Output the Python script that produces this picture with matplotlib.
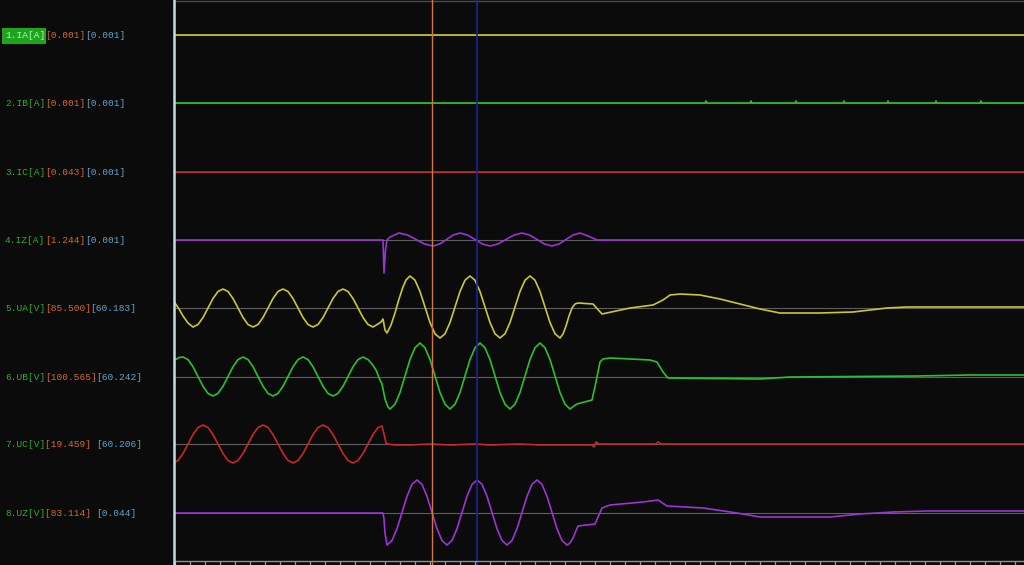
import matplotlib
matplotlib.use("Agg")
import matplotlib.pyplot as plt
from matplotlib.patches import Rectangle

# channel info (left panel)
names = ["IA", "IB", "IC", "IZ", "UA", "UB", "UC", "UZ"]
units = ["A", "A", "A", "A", "V", "V", "V", "V"]
cur1_vals = ["0.001", "0.001", "0.043", "1.244", "85.500", "100.565", "19.459", "83.114"]
cur2_vals = ["0.001", "0.001", "0.001", "0.001", "60.183", "60.242", "60.206", "0.044"]
gap_after = ["", "", "", "", "", "", " ", " "]

# waveforms: (sample no., deflection in display units, + is up)
ia_pts = [(0, 0), (849, 0)]
ib_pts = [(0, 0), (530, 0), (531, 2), (532, 0), (575, 0), (576, 2), (577, 0), (620, 0),
          (621, 2), (622, 0), (668, 0), (669, 2), (670, 0), (712, 0), (713, 2), (714, 0),
          (760, 0), (761, 2), (762, 0), (805, 0), (806, 2), (807, 0), (849, 0)]
ic_pts = [(0, 0), (849, 0)]

iz_pts = [(0, 0), (208, 0), (209, -33), (210.5, -10), (212, 0), (215, 3), (224, 7), (232.5, 5),
          (241, 0.5), (249.5, -4), (258, -6), (264.75, -4), (271.5, 0.5), (278.25, 5), (285, 7),
          (292.5, 5), (300, 0.5), (307.5, -4), (315, -6), (323, -4), (331, 0.5), (339, 5),
          (347, 7), (354.5, 5), (362, 0.5), (369.5, -4), (377, -6), (384, -4), (391, 0.5),
          (398, 5), (405, 7), (413, 4), (422, 0), (849, 0)]

ua_pts = [(0, 5), (4, -1), (8, -8), (13, -15), (18, -19), (23, -16.5), (28, -9.5), (33, 0),
          (38, 9.5), (43, 16.5), (48, 19), (53, 16.5), (58, 9.5), (63, 0), (68, -9.5),
          (73, -16.5), (78, -19), (83, -16.5), (88, -9.5), (93, 0), (98, 9.5), (103, 16.5),
          (108, 19), (113, 16.5), (118, 9.5), (123, 0), (128, -9.5), (133, -16.5), (138, -19),
          (143, -16.5), (148, -9.5), (153, 0), (158, 9.5), (163, 16.5), (168, 19), (173, 16.5),
          (178, 9.5), (183, 0), (188, -9.5), (193, -16.5), (198, -19), (203, -16), (206, -14),
          (208, -11), (210, -22), (212, -25), (216, -17), (220, -5), (224, 9), (228, 21),
          (231, 28), (235, 32), (240, 27.8), (245, 16.5), (250, 1), (255, -14.5), (260, -25.8),
          (265, -30), (270, -25.8), (275, -14.5), (280, 1), (285, 16.5), (290, 27.8), (295, 32),
          (300, 27.8), (305, 16.5), (310, 1), (315, -14.5), (320, -25.8), (325, -30),
          (330, -25.8), (335, -14.5), (340, 1), (345, 16.5), (350, 27.8), (355, 32), (360, 27.8),
          (365, 16.5), (370, 1), (375, -14.5), (380, -25.8), (385, -30), (388, -26), (391, -18),
          (394, -8), (397, 0), (400, 4), (403, 5), (418, 4), (427, -6), (455, 0), (478, 3),
          (488, 8), (495, 13), (505, 14), (525, 13), (545, 9), (565, 4), (585, -1), (605, -5),
          (645, -5), (678, -4), (712, 0), (732, 1), (849, 1)]

ub_pts = [(0, 17), (4, 19.5), (8, 20), (13, 17.4), (18, 10.25), (23, 0.5), (28, -9.25),
          (33, -16.4), (38, -19), (43, -16.4), (48, -9.25), (53, 0.5), (58, 10.25), (63, 17.4),
          (68, 20), (73, 17.4), (78, 10.25), (83, 0.5), (88, -9.25), (93, -16.4), (98, -19),
          (103, -16.4), (108, -9.25), (113, 0.5), (118, 10.25), (123, 17.4), (128, 20),
          (133, 17.4), (138, 10.25), (143, 0.5), (148, -9.25), (153, -16.4), (158, -19),
          (163, -16.4), (168, -9.25), (173, 0.5), (178, 10.25), (183, 17.4), (188, 20),
          (193, 17.4), (197, 13), (201, 7), (205, -3), (207, -7), (210, -22), (213, -30),
          (215, -32), (220, -27.2), (225, -15.5), (230, 1), (235, 17.5), (240, 29.2), (245, 34),
          (250, 29.2), (255, 17.5), (260, 1), (265, -15.5), (270, -27.2), (275, -32),
          (280, -27.2), (285, -15.5), (290, 1), (295, 17.5), (300, 29.2), (305, 34), (310, 29.2),
          (315, 17.5), (320, 1), (325, -15.5), (330, -27.2), (335, -32), (340, -27.2),
          (345, -15.5), (350, 1), (355, 17.5), (360, 29.2), (365, 34), (370, 29.2), (375, 17.5),
          (380, 1), (385, -15.5), (390, -27.2), (395, -32), (399, -29), (402, -27), (417, -23),
          (421, -5), (425, 15), (428, 18), (435, 19), (475, 17), (482, 15), (488, 5), (493, -1),
          (585, -2), (615, 0), (742, 1), (795, 2), (849, 2)]

uc_pts = [(0, -18), (3, -16.5), (8, -9.5), (13, 0), (18, 9.5), (23, 16.5), (28, 19), (33, 16.5),
          (38, 9.5), (43, 0), (48, -9.5), (53, -16.5), (58, -19), (63, -16.5), (68, -9.5),
          (73, 0), (78, 9.5), (83, 16.5), (88, 19), (93, 16.5), (98, 9.5), (103, 0), (108, -9.5),
          (113, -16.5), (118, -19), (123, -16.5), (128, -9.5), (133, 0), (138, 9.5), (143, 16.5),
          (148, 19), (153, 16.5), (158, 9.5), (163, 0), (168, -9.5), (173, -16.5), (178, -19),
          (183, -16.5), (188, -9.5), (193, 0), (198, 9.5), (203, 16.5), (207, 18), (209, 10),
          (211, 1), (213, 0), (220, -1), (235, -1), (255, 0), (275, -1), (300, 0), (315, -1),
          (345, 0), (365, -1), (385, -1), (417, -1), (419, -3), (421, 2), (424, 0), (465, 0),
          (481, 0), (483, 2), (486, 0), (849, 0)]

uz_pts = [(0, 0), (208, 0), (209, -6), (210, -20), (212, -32), (217, -27.5), (222, -15.75),
          (227, 0.5), (232, 16.75), (237, 28.6), (242, 33), (247, 28.6), (252, 16.75), (257, 0.5),
          (262, -15.75), (267, -27.5), (272, -32), (277, -27.5), (282, -15.75), (287, 0.5),
          (292, 16.75), (297, 28.6), (302, 33), (307, 28.6), (312, 16.75), (317, 0.5),
          (322, -15.75), (327, -27.5), (332, -32), (337, -27.5), (342, -15.75), (347, 0.5),
          (352, 16.75), (357, 28.6), (362, 33), (367, 28.6), (372, 16.75), (377, 0.5),
          (382, -15.75), (387, -27.5), (392, -32), (395, -30), (398, -25), (403, -13), (420, -11),
          (427, 5), (435, 8), (468, 11), (483, 13), (492, 7), (528, 5), (562, 0), (585, -4),
          (655, -4), (685, -1), (718, 1), (752, 2), (849, 2)]

cursor_a = 257
cursor_b = 302

series = [ia_pts, ib_pts, ic_pts, iz_pts, ua_pts, ub_pts, uc_pts, uz_pts]
colors = ["#c8c832", "#2cc02c", "#c42828", "#9a34d2",
          "#c8c832", "#2cc02c", "#c42828", "#9a34d2"]
base = [35, 103, 172, 240, 308, 377, 444, 513]

bg = "#0b0b0b"
fig = plt.figure(figsize=(10.24, 5.65), dpi=100, facecolor=bg)

# left label panel
lax = fig.add_axes([0, 0, 172 / 1024, 1])
lax.set_facecolor(bg)
lax.set_xlim(0, 172)
lax.set_ylim(565, 0)
lax.axis("off")

cw = 5.7
fs = 6.8
font = "Liberation Mono"
for i in range(8):
    lab = "%d.%s[%s]" % (i + 1, names[i], units[i])
    s1 = "[%s]" % cur1_vals[i] + gap_after[i]
    s2 = "[%s]" % cur2_vals[i]
    x0 = 5
    y0 = base[i] + 0.5
    if i == 0:
        lax.add_patch(Rectangle((2, y0 - 8), 44, 16, color="#1da51d", lw=0))
        c0 = "#b4f5b4"
    else:
        c0 = "#34a834"
    lax.text(x0, y0, lab, color=c0, fontsize=fs, family=font, va="center", ha="left")
    x1 = x0 + cw * len(lab)
    lax.text(x1, y0, s1, color="#d2692d", fontsize=fs, family=font, va="center", ha="left")
    x2 = x1 + cw * len(s1)
    lax.text(x2, y0, s2, color="#64a3c8", fontsize=fs, family=font, va="center", ha="left")

# divider
fig.add_artist(plt.Line2D([173.5 / 1024, 173.5 / 1024], [0, 1], color="#c6dae6", lw=1.8))

# waveform area
ax = fig.add_axes([175 / 1024, 0, 849 / 1024, 1])
ax.set_facecolor(bg)
ax.set_xlim(0, 849)
ax.set_ylim(565, 0)
ax.axis("off")

for i in range(8):
    ax.axhline(base[i], color="#5e5e5e", lw=0.8, zorder=1)
for i, pts in enumerate(series):
    t = [p[0] for p in pts]
    y = [base[i] - p[1] for p in pts]
    ax.plot(t, y, color=colors[i], lw=1.2, zorder=3, solid_joinstyle="round")

ax.axvline(cursor_a, color="#d2783c", lw=1.0, zorder=4)
ax.axvline(cursor_b, color="#1c2496", lw=1.2, zorder=4)

# top border and bottom ruler
ax.axhline(0.6, color="#4a4a4a", lw=1.0, zorder=2)
ax.hlines(561, 0, 849, color="#8e8e8e", lw=1.0, zorder=5)
ax.vlines(list(range(0, 850, 15)), 561, 565, color="#9a9a9a", lw=0.9, zorder=5)

fig.savefig("out.png", dpi=100, facecolor=bg)
